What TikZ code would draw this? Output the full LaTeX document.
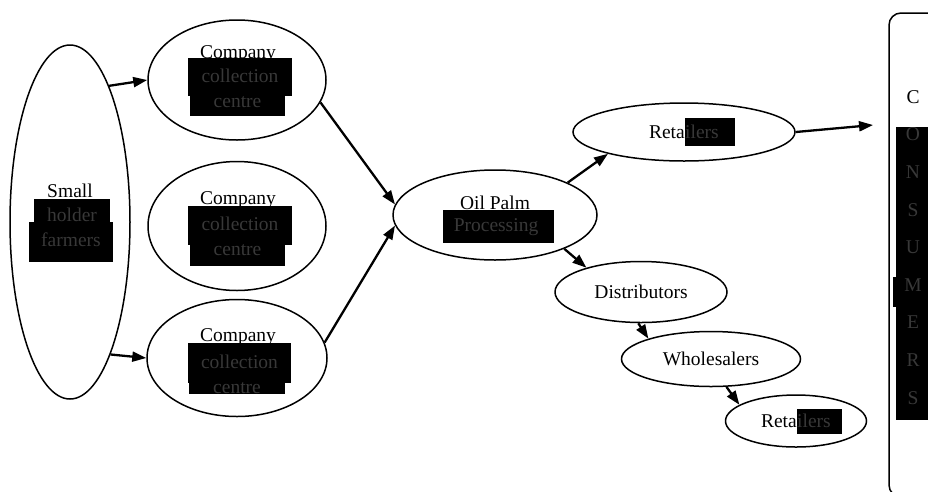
\documentclass[tikz,border=0pt]{standalone}
\usepackage{fontspec}
\setmainfont{Liberation Serif}
\usetikzlibrary{shapes.geometric,arrows.meta}
\definecolor{hlgray}{HTML}{383838}
\begin{document}
\begin{tikzpicture}[x=1pt,y=-1pt,
  every node/.style={font=\fontsize{19.5}{23}\selectfont, inner sep=0pt},
  oval/.style={draw, ellipse, line width=1.5pt},
  hlbox/.style={fill=black, rectangle},
  hltext/.style={text=hlgray},
  arr/.style={line width=2.3pt, -{Triangle[length=14pt,width=10pt]}}]
\useasboundingbox (0,0) rectangle (928,491);

% ellipses
\node[oval, minimum width=120pt, minimum height=354pt] (farm) at (70,222) {};
\node[oval, minimum width=178pt, minimum height=120pt] (c1) at (237,80) {};
\node[oval, minimum width=178pt, minimum height=129pt] (c2) at (237,226) {};
\node[oval, minimum width=180pt, minimum height=117pt] (c3) at (237,358) {};
\node[oval, minimum width=204pt, minimum height=90pt] (oil) at (495,215) {};
\node[oval, minimum width=222pt, minimum height=58pt] (ret1) at (684,132) {};
\node[oval, minimum width=172pt, minimum height=61pt] (dist) at (641,292) {Distributors};
\node[oval, minimum width=179pt, minimum height=55pt] (whole) at (711,359) {Wholesalers};
\node[oval, minimum width=141pt, minimum height=52pt] (ret2) at (796,421) {};

% consumers box
\node[draw, line width=1.5pt, rounded corners=12pt, minimum width=71pt, minimum height=484pt] (cons) at (924.5,255) {};

% farmers text
\node (farmA) at (70,191) {Small};
\node[hlbox, minimum width=76pt, minimum height=26pt] (farmBb) at (72,212) {};
\node[hltext] (farmB) at (72,215) {holder};
\node[hlbox, minimum width=84pt, minimum height=40pt] (farmCb) at (71,242) {};
\node[hltext] (farmC) at (71,240) {farmers};

% company 1
\node (c1a) at (238,54) {Company};
\node[hlbox, minimum width=104pt, minimum height=38pt] (c1bb) at (240,77) {};
\node[hltext] (c1b) at (240,76) {collection};
\node[hlbox, minimum width=95pt, minimum height=20pt] (c1cb) at (237.5,106) {};
\node[hltext] (c1c) at (237.5,102) {centre};

% company 2
\node (c2a) at (238,200) {Company};
\node[hlbox, minimum width=104pt, minimum height=39pt] (c2bb) at (240,225.5) {};
\node[hltext] (c2b) at (240,224) {collection};
\node[hlbox, minimum width=95pt, minimum height=21pt] (c2cb) at (237.5,255.5) {};
\node[hltext] (c2c) at (237.5,250) {centre};

% company 3
\node (c3a) at (238,337) {Company};
\node[hlbox, minimum width=103pt, minimum height=40pt] (c3bb) at (239.5,363) {};
\node[hltext] (c3b) at (239.5,362) {collection};
\node[hlbox, minimum width=96pt, minimum height=11pt] (c3cb) at (237,388.5) {};
\node[hltext] (c3c) at (237,388) {centre};

% oil palm
\node (oilA) at (495,203) {Oil Palm};
\node[hlbox, minimum width=111pt, minimum height=33pt] (oilBb) at (498.5,226.5) {};
\node[hltext] (oilB) at (496,227) {Processing};

% retailers
\node[anchor=east] (r1a) at (685,132) {Reta};
\node[hlbox, minimum width=50pt, minimum height=28pt] (r1bb) at (710,132) {};
\node[hltext, anchor=west] (r1b) at (685,132) {ilers};
\node[anchor=east] (r2a) at (797,421) {Reta};
\node[hlbox, minimum width=45pt, minimum height=25pt] (r2bb) at (819.5,421.5) {};
\node[hltext, anchor=west] (r2b) at (797,421) {ilers};

% consumers letters
\node (k0) at (913,97) {C};
\node[hlbox, minimum width=34pt, minimum height=293pt] (kb) at (913,273.5) {};
\node[hlbox, minimum width=8pt, minimum height=30pt] (kbump) at (897,292) {};
\foreach \l [count=\i] in {O,N,S,U,M,E,R,S}{
  \node[hltext] (k\i) at (913,{97+37.6*\i}) {\l};
}

% connectors
\coordinate (consin) at (873,125);
\draw[arr] (farm.74) -- (c1.west);
\draw[arr] (farm.-73.5) -- (c3.west);
\draw[arr] (c1.-15) -- (oil.174);
\draw[arr] (c3.10) -- (oil.186);
\draw[arr] (oil.24.6) -- (ret1.196);
\draw[arr] (ret1.east) -- (consin);
\draw[arr] (oil.-26) -- (dist.156);
\draw[arr] (dist.-95) -- (whole.162);
\draw[arr] (whole.-61) -- (ret2.164);
\end{tikzpicture}
\end{document}
